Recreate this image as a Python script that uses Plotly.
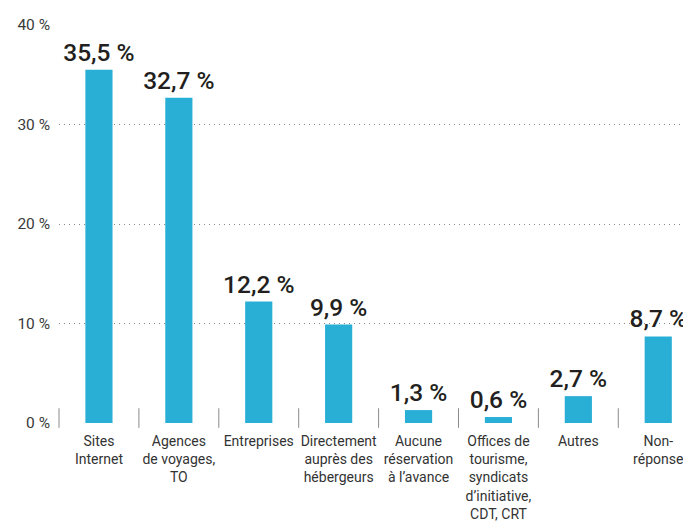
import plotly.graph_objects as go

categories = [
    "Sites<br>Internet",
    "Agences<br>de voyages,<br>TO",
    "Entreprises",
    "Directement<br>auprès des<br>hébergeurs",
    "Aucune<br>réservation<br>à l’avance",
    "Offices de<br>tourisme,<br>syndicats<br>d’initiative,<br>CDT, CRT",
    "Autres",
    "Non-<br>réponse",
]
values = [35.5, 32.7, 12.2, 9.9, 1.3, 0.6, 2.7, 8.7]
y_ticks = [0, 10, 20, 30, 40]
y_ticktext = ["0 %", "10 %", "20 %", "30 %", "40 %"]

labels = [f"{v:.1f}".replace(".", ",") + " %" for v in values]
FONT = "Roboto, sans-serif"

fig = go.Figure(go.Bar(
    x=list(range(len(categories))),
    y=values,
    text=labels,
    textposition="outside",
    constraintext="none",
    textfont=dict(family=FONT, size=24.5, color="#231f20", weight=500),
    cliponaxis=False,
    marker=dict(color="#29afd6", line=dict(width=0)),
    width=0.34,
))

fig.update_layout(
    width=683, height=525,
    margin=dict(l=51, r=0, t=17, b=110),
    paper_bgcolor="white", plot_bgcolor="white",
    showlegend=False,
    font=dict(family=FONT, color="#333333"),
    xaxis=dict(
        tickmode="array",
        tickvals=list(range(len(categories))),
        ticktext=categories,
        tickangle=0,
        range=[-0.5, 7.41],
        automargin=False,
        showgrid=False, zeroline=False, showline=False,
        ticks="", tickfont=dict(family=FONT, size=14, color="#333333"),
        ticklabelstandoff=8,
    ),
    yaxis=dict(
        range=[0, 40],
        automargin=False,
        tickmode="array", tickvals=y_ticks, ticktext=y_ticktext,
        showgrid=True, gridcolor="#8a8a8a", griddash="1px,4px", gridwidth=1,
        zeroline=False, showline=False, ticks="",
        tickfont=dict(family=FONT, size=15.5, color="#3a3a3a"),
        ticklabelstandoff=8,
    ),
)

# boundary tick marks along the baseline
fig.add_trace(go.Scatter(
    x=[i - 0.5 for i in range(len(categories))], y=[0.5] * len(categories),
    mode="markers", marker=dict(symbol="line-ns", size=14, line=dict(width=1, color="#8a8a8a")),
    hoverinfo="skip", cliponaxis=False,
))

fig.write_html("out.html")
